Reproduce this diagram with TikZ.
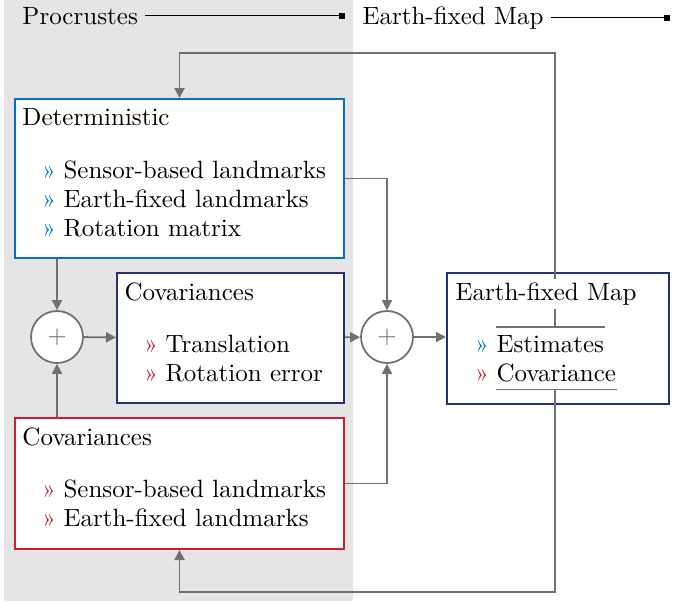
\documentclass[tikz,border=0pt]{standalone}
\usetikzlibrary{positioning,arrows.meta,calc}
\definecolor{bggray}{RGB}{229,229,229}
\definecolor{lgray}{RGB}{112,112,112}
\definecolor{detblue}{RGB}{0,114,198}
\definecolor{navy}{RGB}{38,48,120}
\definecolor{errred}{RGB}{204,30,48}
\newcommand*{\pxu}{0.4pt}
\tikzset{%
  box/.style={draw, fill=white, line width=0.8pt, anchor=north west, inner sep=0pt},% panel
  title/.style={anchor=base west, inner xsep=0pt, inner ysep=1.5pt},% panel heading
  item/.style={anchor=base west, inner xsep=0pt, inner ysep=3pt},% list entry
  bullet/.style={anchor=base east, inner xsep=2.6pt, inner ysep=0pt},
  blueitem/.style={item, label={[bullet, text=detblue]base west:»}},
  reditem/.style={item, label={[bullet, text=errred]base west:»}},
  sum/.style={draw=lgray, circle, fill=white, line width=0.7pt,
    minimum size=52*\pxu, inner sep=0pt, text=lgray},% adder
  flow/.style={draw=lgray, line width=0.75pt, -{Triangle[length=4pt,width=4pt]}},
  plain/.style={draw=lgray, line width=0.75pt},
  header/.style={line width=0.6pt, shorten <=2.8pt, -{Square[length=2.4pt,width=2.4pt]}}
}

\begin{document}
\begin{tikzpicture}[x=\pxu, y=-\pxu]
\useasboundingbox (0,0) rectangle (673,601);
\fill[bggray] (4,0) rectangle (353,601);

% headers
\node[title] (procr) at (22,24) {Procrustes};
\node[title] (earth) at (362,24) {Earth-fixed Map};
\coordinate (procrend) at (345,17);
\coordinate (earthend) at (670,17);
\draw[header] (procr.east) -- (procr.east -| procrend);
\draw[header] (earth.east) -- (earth.east -| earthend);

% panels
\node[box, draw=detblue, minimum width=329*\pxu, minimum height=159*\pxu] (det) at (14,98) {};
\node[box, draw=navy, minimum width=227*\pxu, minimum height=130*\pxu] (cov) at (116,272) {};
\node[box, draw=errred, minimum width=329*\pxu, minimum height=131*\pxu] (err) at (14,417) {};
\node[box, draw=navy, minimum width=222*\pxu, minimum height=131*\pxu] (map) at (446,272) {};

\node[title] (dettitle) at (22,125) {Deterministic};
\node[blueitem] (det1) at (63,178) {Sensor-based landmarks};
\node[blueitem] (det2) at (63,207) {Earth-fixed landmarks};
\node[blueitem] (det3) at (63,236) {Rotation matrix};

\node[title] (covtitle) at (124,300) {Covariances};
\node[reditem] (cov1) at (165,352) {Translation};
\node[reditem] (cov2) at (165,381) {Rotation error};

\node[title] (errtitle) at (22,445) {Covariances};
\node[reditem] (err1) at (63,497) {Sensor-based landmarks};
\node[reditem] (err2) at (63,526) {Earth-fixed landmarks};

\node[blueitem] (est) at (496,352) {Estimates};
\node[reditem] (covar) at (496,381) {Covariance};

% adders
\node[sum] (sumL) at (57,337) {$+$};
\node[sum] (sumR) at (387,337) {$+$};

% connectors
\draw[flow] (det.south -| sumL) -- (sumL);
\draw[flow] (err.north -| sumL) -- (sumL);
\draw[flow] (sumL) -- (cov);
\draw[flow] (cov) -- (sumR);
\draw[flow] (det) -| (sumR);
\draw[flow] (err) -| (sumR);
\draw[flow] (sumR) -- (sumR -| map.west);

% feedback to the panels
\coordinate (fbtop) at (555,53);
\coordinate (fbbot) at (555,592);
\draw[plain] (est.north west) -- (est.north east);
\draw[plain] (covar.south west) -- (covar.south east);
\draw[flow] (est.north -| fbtop) -- (fbtop) -| (det.north);
\draw[flow] (covar.south -| fbbot) -- (fbbot) -| (err.south);

\node[title, fill=white] (maptitle) at (455,300) {Earth-fixed Map};
\end{tikzpicture}
\end{document}
